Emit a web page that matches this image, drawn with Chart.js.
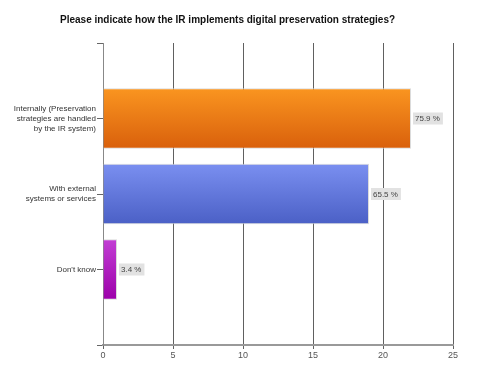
<!DOCTYPE html>
<html>
<head>
<meta charset="utf-8">
<script src="https://cdn.jsdelivr.net/npm/chart.js@4/dist/chart.umd.min.js"></script>
<style>
  body { margin: 0; background: #fff; }
</style>
</head>
<body>
<canvas id="myChart" width="490" height="378"></canvas>
<script>
// Survey answers, horizontal bars with percent labels

const titleText = "Please indicate how the IR implements digital preservation strategies?";
const answers = [
  "",
  ["Internally (Preservation", "strategies are handled", "by the IR system)"],
  ["With external", "systems or services"],
  "Don't know",
  "",
];
const counts = [null, 22, 19, 1, null];
const percents = [null, 75.9, 65.5, 3.4, null];
const xTicks = [0, 5, 10, 15, 20, 25];

// top / bottom colour of each bar
const barTop = [null, "#fa9520", "#7a8ff0", "#c23ed4", null];
const barBottom = [null, "#d9600c", "#4b60c6", "#9c00aa", null];

const ctx = document.querySelector("#myChart");

function barGradient(context) {
  const chart = context.chart;
  const i = context.dataIndex;
  const yScale = chart.scales.y;
  if (!yScale || !barTop[i]) return barTop[i] || "#999";
  const mid = yScale.getPixelForValue(i);
  const g = chart.ctx.createLinearGradient(0, mid - 30, 0, mid + 30);
  g.addColorStop(0, barTop[i]);
  g.addColorStop(1, barBottom[i]);
  return g;
}

const titlePlugin = {
  id: "leftTitle",
  afterDraw(chart) {
    const c = chart.ctx;
    c.save();
    c.font = "bold 10px 'Liberation Sans', Arial, sans-serif";
    c.fillStyle = "#111";
    c.textBaseline = "middle";
    c.fillText(titleText, 60, 20);
    c.restore();
  },
};

const valueLabels = {
  id: "valueLabels",
  afterDatasetsDraw(chart) {
    const c = chart.ctx;
    const meta = chart.getDatasetMeta(0);
    c.save();
    c.font = "8px 'Liberation Sans', Arial, sans-serif";
    c.textBaseline = "middle";
    meta.data.forEach((bar, i) => {
      if (percents[i] == null) return;
      const txt = percents[i].toFixed(1) + " %";
      const w = c.measureText(txt).width + 5;
      const x = bar.x + 2;
      c.fillStyle = "#e2e2e2";
      c.fillRect(x, bar.y - 6, w, 12);
      c.fillStyle = "#444";
      c.fillText(txt, x + 2, bar.y + 0.5);
    });
    c.restore();
  },
};

const chart = new Chart(ctx, {
  type: "bar",
  data: {
    labels: answers,
    datasets: [
      {
        data: counts,
        backgroundColor: barGradient,
        borderColor: "rgba(215,215,215,0.9)",
        borderWidth: 1,
        barPercentage: 0.8,
        categoryPercentage: 1,
      },
    ],
  },
  options: {
    indexAxis: "y",
    responsive: false,
    animation: false,
    layout: { padding: { top: 43, right: 37, bottom: 12, left: 0 } },
    plugins: {
      legend: { display: false },
      title: { display: false },
      tooltip: { enabled: false },
    },
    scales: {
      x: {
        min: 0,
        max: 25,
        afterBuildTicks(scale) {
          scale.ticks = xTicks.map((v) => ({ value: v }));
        },
        afterFit(scale) {
          scale.height = 21;
        },
        grid: { color: "#606060", tickLength: 4 },
        border: { color: "#999", width: 2 },
        ticks: {
          color: "#555",
          padding: 1,
          font: { size: 9, family: "'Liberation Sans', Arial, sans-serif" },
        },
      },
      y: {
        type: "category",
        offset: false,
        afterFit(scale) {
          scale.width = 103;
        },
        grid: { offset: false, drawOnChartArea: false, color: "#666", tickLength: 6 },
        border: { color: "#888", width: 1 },
        ticks: {
          color: "#333",
          padding: 1,
          autoSkip: false,
          font: { size: 8, lineHeight: 1.25, family: "'Liberation Sans', Arial, sans-serif" },
        },
      },
    },
  },
  plugins: [titlePlugin, valueLabels],
});
</script>
</body>
</html>
